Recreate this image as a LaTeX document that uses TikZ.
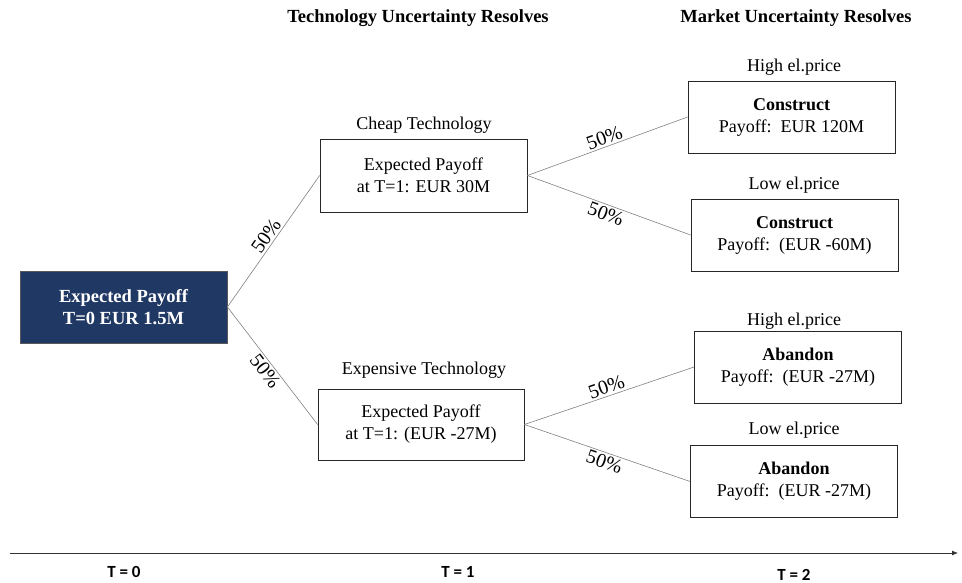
\documentclass[tikz,border=0pt]{standalone}
\usepackage{fontspec}
\setmainfont{Liberation Serif}
\newfontfamily\axisfont{Carlito}
\usetikzlibrary{arrows.meta}
\definecolor{navy}{HTML}{203864}
\definecolor{edgegray}{HTML}{808080}
\begin{document}
\begin{tikzpicture}[x=1pt,y=-1pt,
  every node/.style={font=\fontsize{18}{22}\selectfont},
  box/.style={draw=black!85, line width=0.8pt, rectangle, minimum width=207pt, minimum height=72pt, align=center, inner sep=2pt},
  rootbox/.style={box, fill=navy, draw=gray!70!black, text=white, font=\fontsize{18.5}{22}\selectfont\bfseries},
  edge/.style={draw=edgegray, line width=0.6pt},
  pct/.style={midway, sloped, inner sep=2pt, font=\fontsize{20}{22}\selectfont},
  head/.style={font=\fontsize{18.5}{22}\selectfont\bfseries},
  tlab/.style={font=\axisfont\bfseries\fontsize{17}{18}\selectfont}
]
\useasboundingbox (0,0) rectangle (962,583);

\node[head] (h1) at (418,18) {Technology Uncertainty Resolves};
\node[head] (h2) at (796,18) {Market Uncertainty Resolves};

\node[rootbox] (root) at (123.5,307) {Expected Payoff\\T=0 EUR 1.5M};

\node[box, minimum width=207pt, minimum height=73pt] (cheap) at (423.5,175.5) {Expected Payoff\\at T=1: EUR 30M};
\node (cheapl) at (424,125) {Cheap Technology};
\node[box, minimum width=206pt, minimum height=71pt] (exp) at (421,424.5) {Expected Payoff\\at T=1: (EUR -27M)};
\node (expl) at (424,370) {Expensive Technology};

\node[box] (b1) at (791.5,117) {\textbf{Construct}\\Payoff:\ \ EUR 120M};
\node (b1l) at (794,67) {High el.price};
\node[box] (b2) at (794.5,235) {\textbf{Construct}\\Payoff:\ \ (EUR -60M)};
\node (b2l) at (794,185) {Low el.price};
\node[box] (b3) at (798,367) {\textbf{Abandon}\\Payoff:\ \ (EUR -27M)};
\node (b3l) at (794,321) {High el.price};
\node[box] (b4) at (794,481.5) {\textbf{Abandon}\\Payoff:\ \ (EUR -27M)};
\node (b4l) at (794,430) {Low el.price};

\draw[edge] (root.east) -- (cheap.west) node[pct, above] {50\%};
\draw[edge] (root.east) -- (exp.west) node[pct, below] {50\%};
\draw[edge] (cheap.east) -- (b1.west) node[pct, above] {50\%};
\draw[edge] (cheap.east) -- (b2.west) node[pct, below] {50\%};
\draw[edge] (exp.east) -- (b3.west) node[pct, above] {50\%};
\draw[edge] (exp.east) -- (b4.west) node[pct, below] {50\%};

\coordinate (axL) at (10,553);
\coordinate (axR) at (958,553);
\draw[black!80, line width=0.8pt, -{Latex[length=6pt,width=5pt]}] (axL) -- (axR);
\node[tlab] (t0) at (124,572) {T = 0};
\node[tlab] (t1) at (458,572) {T = 1};
\node[tlab] (t2) at (794,575) {T = 2};
\end{tikzpicture}
\end{document}
